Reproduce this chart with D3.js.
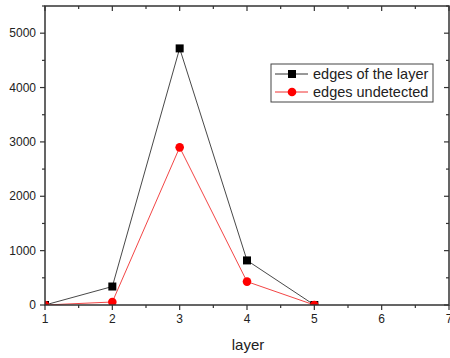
<!DOCTYPE html>
<html lang="en">
<head>
  <meta charset="UTF-8">
  <title>layer edges</title>
  <style>
    body { margin: 0; background: #fff; }
    svg { display: block; font-family: "Liberation Sans", Arial, sans-serif; }
  </style>
</head>
<body>
  <svg id="chart"></svg>
  <script src="https://d3js.org/d3.v7.min.js"></script>
  <script>
    // data
    var layers = [1, 2, 3, 4, 5];
    var edgesOfLayer = [0, 340, 4720, 820, 0];
    var edgesUndetected = [0, 55, 2900, 430, 0];
    var xTicks = [1, 2, 3, 4, 5, 6, 7];
    var yTicks = [0, 1000, 2000, 3000, 4000, 5000];
    var seriesNames = ["edges of the layer", "edges undetected"];

    var width = 450, height = 358;
    var margin = { top: 6, right: 1, bottom: 53, left: 45 };
    var w = width - margin.left - margin.right;
    var h = height - margin.top - margin.bottom;

    var svg = d3.select("#chart").attr("width", width).attr("height", height);
    svg.append("defs").append("clipPath").attr("id", "plotclip")
      .append("rect").attr("width", w).attr("height", h);
    var g = svg.append("g").attr("transform", "translate(" + margin.left + "," + margin.top + ")");

    var x = d3.scaleLinear().domain([1, 7]).range([0, w]);
    var y = d3.scaleLinear().domain([0, 5500]).range([h, 0]);

    var minorX = d3.range(1, 7.01, 0.5);
    var minorY = d3.range(0, 5501, 500);
    var axisColor = "#333";

    var line = d3.line()
      .x(function (d) { return x(d[0]); })
      .y(function (d) { return y(d[1]); });

    var s1 = layers.map(function (l, i) { return [l, edgesOfLayer[i]]; });
    var s2 = layers.map(function (l, i) { return [l, edgesUndetected[i]]; });

    var plot = g.append("g").attr("clip-path", "url(#plotclip)");
    plot.append("path").datum(s1).attr("d", line)
      .attr("fill", "none").attr("stroke", "#333").attr("stroke-width", 0.9);
    plot.append("path").datum(s2).attr("d", line)
      .attr("fill", "none").attr("stroke", "#f03030").attr("stroke-width", 0.9);

    plot.selectAll(".sq").data(s1).enter().append("rect")
      .attr("x", function (d) { return x(d[0]) - 4; })
      .attr("y", function (d) { return y(d[1]) - 4; })
      .attr("width", 8).attr("height", 8).attr("fill", "#000");
    plot.selectAll(".ci").data(s2).enter().append("circle")
      .attr("cx", function (d) { return x(d[0]); })
      .attr("cy", function (d) { return y(d[1]); })
      .attr("r", 4.3).attr("fill", "#f00");

    // frame
    g.append("rect").attr("width", w).attr("height", h)
      .attr("fill", "none").attr("stroke", axisColor).attr("stroke-width", 1.5);

    // bottom ticks (outward)
    g.selectAll(".bt").data(minorX).enter().append("line")
      .attr("x1", function (d) { return x(d); }).attr("x2", function (d) { return x(d); })
      .attr("y1", h).attr("y2", function (d) { return h + (d % 1 === 0 ? 5 : 3); })
      .attr("stroke", axisColor).attr("stroke-width", 1.2);
    // top ticks (inward)
    g.selectAll(".tt").data(minorX).enter().append("line")
      .attr("x1", function (d) { return x(d); }).attr("x2", function (d) { return x(d); })
      .attr("y1", 0).attr("y2", function (d) { return d % 1 === 0 ? 5 : 3; })
      .attr("stroke", axisColor).attr("stroke-width", 1.2);
    // left ticks (outward)
    g.selectAll(".lt").data(minorY).enter().append("line")
      .attr("y1", function (d) { return y(d); }).attr("y2", function (d) { return y(d); })
      .attr("x1", 0).attr("x2", function (d) { return d % 1000 === 0 ? -5 : -3; })
      .attr("stroke", axisColor).attr("stroke-width", 1.2);
    // right ticks (inward)
    g.selectAll(".rt").data(minorY).enter().append("line")
      .attr("y1", function (d) { return y(d); }).attr("y2", function (d) { return y(d); })
      .attr("x1", w).attr("x2", function (d) { return d % 1000 === 0 ? w - 5 : w - 3; })
      .attr("stroke", axisColor).attr("stroke-width", 1.2);

    // tick labels
    g.selectAll(".xl").data(xTicks).enter().append("text")
      .attr("x", function (d) { return x(d); }).attr("y", h + 18)
      .attr("text-anchor", "middle").attr("font-size", 12).attr("fill", "#222")
      .text(function (d) { return d; });
    g.selectAll(".yl").data(yTicks).enter().append("text")
      .attr("x", -9).attr("y", function (d) { return y(d); }).attr("dy", "0.35em")
      .attr("text-anchor", "end").attr("font-size", 12).attr("fill", "#222")
      .text(function (d) { return d; });

    g.append("text").attr("x", x(4) + 1).attr("y", h + 45)
      .attr("text-anchor", "middle").attr("font-size", 15).attr("fill", "#222")
      .text("layer");

    // legend
    var lg = svg.append("g").attr("transform", "translate(271,64)");
    lg.append("rect").attr("width", 162).attr("height", 38)
      .attr("fill", "#fff").attr("stroke", "#444").attr("stroke-width", 1);
    seriesNames.forEach(function (name, i) {
      var yy = 10 + i * 18;
      lg.append("line").attr("x1", 4).attr("x2", 37).attr("y1", yy).attr("y2", yy)
        .attr("stroke", i === 0 ? "#333" : "#f03030").attr("stroke-width", 1);
      if (i === 0) {
        lg.append("rect").attr("x", 17).attr("y", yy - 4).attr("width", 8).attr("height", 8).attr("fill", "#000");
      } else {
        lg.append("circle").attr("cx", 21).attr("cy", yy).attr("r", 4.3).attr("fill", "#f00");
      }
      lg.append("text").attr("x", 42).attr("y", yy).attr("dy", "0.35em")
        .attr("font-size", 14.5).attr("fill", "#222").text(name);
    });
  </script>
</body>
</html>
